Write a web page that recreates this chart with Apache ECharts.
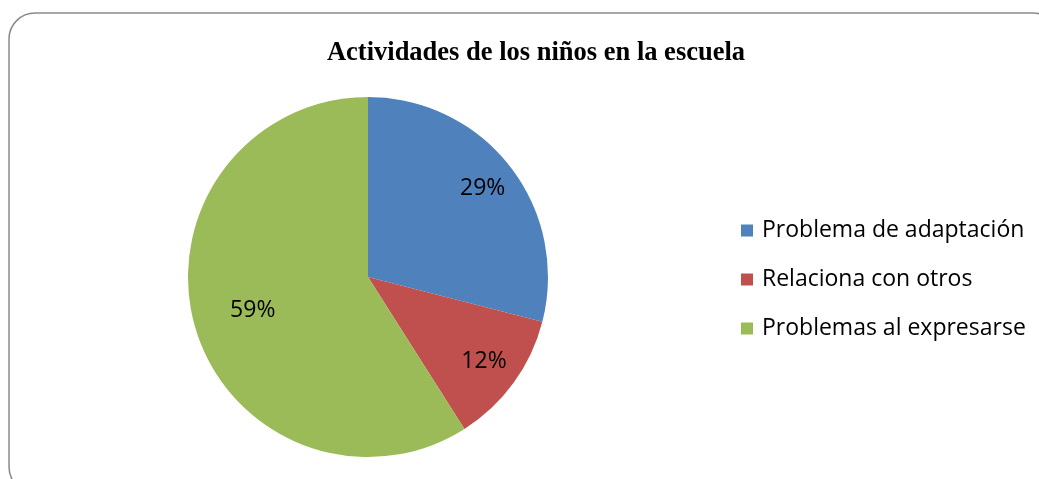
<!DOCTYPE html>
<html>
<head>
<meta charset="utf-8">
<script src="https://cdn.jsdelivr.net/npm/echarts@6/dist/echarts.min.js"></script>
<style>
  html, body { margin: 0; padding: 0; background: #fff; }
  #chart { width: 1039px; height: 479px; }
</style>
</head>
<body>
<div id="chart"></div>
<script>
// Data
const categories = ['Problema de adaptación', 'Relaciona con otros', 'Problemas al expresarse'];
const values = [29, 12, 59];
const colors = ['#4F81BD', '#C0504D', '#9BBB59'];

const pieRadius = 180;
// how far out (fraction of radius) each label sits, like Excel's best fit
const labelDist = [0.79, 0.78, 0.65];

const total = values.reduce((a, b) => a + b, 0);
let cum = 0;
const pieData = values.map((v, i) => {
    const mid = (cum + v / 2) / total * Math.PI * 2;
    cum += v;
    const extra = (labelDist[i] - 0.5) * pieRadius;
    return {
        name: categories[i],
        value: v,
        itemStyle: { color: colors[i] },
        label: { offset: [Math.sin(mid) * extra, -Math.cos(mid) * extra] }
    };
});

const myChart = echarts.init(document.getElementById('chart'));

const option = {
    backgroundColor: '#fff',
    animation: false,
    graphic: [{
        type: 'rect',
        shape: { x: 9, y: 13, width: 1050, height: 480, r: 26 },
        style: { fill: 'none', stroke: '#8a8a8a', lineWidth: 1.5 },
        silent: true
    }],
    title: {
        text: 'Actividades de los niños en la escuela',
        left: 531,
        textAlign: 'center',
        top: 35,
        textStyle: {
            fontFamily: 'Liberation Serif',
            fontWeight: 'bold',
            fontSize: 26.5,
            color: '#000'
        }
    },
    legend: {
        orient: 'vertical',
        left: 736,
        top: 214,
        itemWidth: 12,
        itemHeight: 12,
        itemGap: 26,
        icon: 'rect',
        data: categories,
        textStyle: {
            fontFamily: 'Open Sans',
            fontSize: 23,
            lineHeight: 20,
            color: '#000',
            padding: [0, 0, 0, 4]
        }
    },
    series: [{
        type: 'pie',
        center: [368, 277],
        radius: pieRadius,
        startAngle: 90,
        clockwise: true,
        itemStyle: { borderWidth: 0 },
        label: {
            show: true,
            position: 'inside',
            formatter: '{d}%',
            fontFamily: 'Open Sans',
            fontSize: 23,
            color: '#000'
        },
        labelLine: { show: false },
        emphasis: { disabled: true },
        data: pieData
    }]
};

myChart.setOption(option);
</script>
</body>
</html>
